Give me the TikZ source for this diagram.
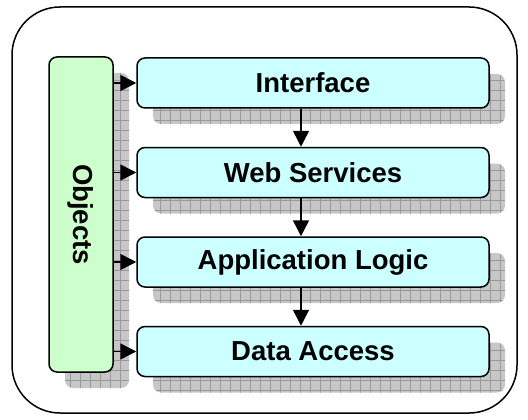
\documentclass[tikz,border=0pt]{standalone}
\usepackage{fontspec}
\setmainfont{Liberation Sans}
\usetikzlibrary{positioning,shadows,patterns.meta,arrows.meta}
\definecolor{layerfill}{HTML}{CCFFFF}
\definecolor{objfill}{HTML}{CCFFCC}

\begin{document}
\begin{tikzpicture}[
	gridshadow/.style={
		drop shadow={shadow xshift=16pt,shadow yshift=-16pt,opacity=1,fill=black!22},
		drop shadow={shadow xshift=16pt,shadow yshift=-16pt,opacity=1,fill=none,
			pattern={Hatch[distance=10pt,angle=0,line width=0.7pt]},pattern color=black!40}},
	box/.style={draw,line width=1.5pt,rounded corners=8pt,inner sep=0pt,gridshadow,
		font=\fontsize{27.5}{32}\selectfont\bfseries},
	layer/.style={box,fill=layerfill,minimum width=352pt,minimum height=50pt},
	objbox/.style={box,fill=objfill,minimum width=64pt,minimum height=315pt},
	arr/.style={line width=1.5pt,-{Triangle[length=16pt,width=16pt]}},
	node distance=38pt]
	\useasboundingbox (0,0) rectangle (528pt,-420pt);
	\draw[line width=1.5pt,rounded corners=48pt] (12pt,-7pt) rectangle (517pt,-413pt);
	\node[layer] (a0) at (313pt,-83pt) {Interface};
	\node[layer,below=of a0] (a1) {Web Services};
	\node[layer,below=of a1] (a2) {Application Logic};
	\node[layer,below=of a2] (a3) {Data Access};
	\node[objbox] (ob) at (81pt,-214.5pt) {\rotatebox{-90}{Objects}};
	\foreach \i in {0,...,3}
		\draw[arr] (ob.east |- a\i) -- (a\i.west);
	\foreach \i/\j in {0/1,1/2,2/3}
		\draw[arr] ([xshift=-12pt]a\i.south) -- ([xshift=-12pt]a\j.north);
\end{tikzpicture}
\end{document}
